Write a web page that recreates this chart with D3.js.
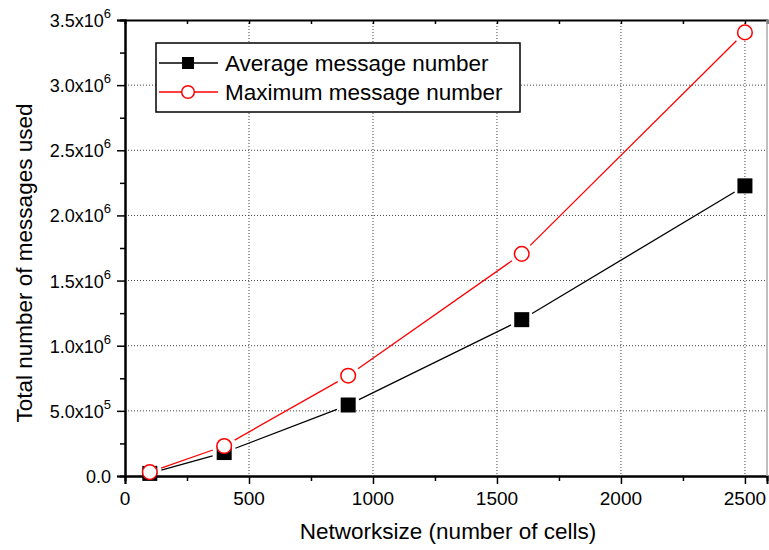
<!DOCTYPE html>
<html>
<head>
<meta charset="utf-8">
<script src="https://cdn.jsdelivr.net/npm/d3@7"></script>
<style>
  body { margin: 0; background: #fff; }
  text { font-family: "Liberation Sans", Arial, sans-serif; fill: #000; }
</style>
</head>
<body>
<script>
/* Data */
var sizes = [100, 400, 900, 1600, 2500];
var avgMessages = [20000, 180000, 545000, 1200000, 2227000];
var maxMessages = [30000, 230000, 770000, 1705000, 3405000];
var xTicks = [0, 500, 1000, 1500, 2000, 2500];
var yTicks = [0, 0.5e6, 1.0e6, 1.5e6, 2.0e6, 2.5e6, 3.0e6, 3.5e6];
var yTickLabels = ["0.0", "5.0x10|5", "1.0x10|6", "1.5x10|6", "2.0x10|6", "2.5x10|6", "3.0x10|6", "3.5x10|6"];

var W = 769, H = 550;
var pLeft = 125, pRight = 767, pTop = 20, pBottom = 476;

var x = d3.scaleLinear().domain([0, 2589]).range([pLeft, pRight]);
var y = d3.scaleLinear().domain([0, 3.5e6]).range([pBottom, pTop]);

var svg = d3.select("body").append("svg")
    .attr("width", W)
    .attr("height", H);

// dotted grid
svg.append("g").selectAll("line")
    .data(xTicks.filter(d => d > 0))
  .enter().append("line")
    .attr("x1", d => x(d)).attr("x2", d => x(d))
    .attr("y1", pTop).attr("y2", pBottom)
    .attr("stroke", "#444").attr("stroke-width", 1)
    .attr("stroke-dasharray", "1,2");
svg.append("g").selectAll("line")
    .data(yTicks.filter(d => d > 0 && d < 3.5e6))
  .enter().append("line")
    .attr("x1", pLeft).attr("x2", pRight)
    .attr("y1", d => y(d)).attr("y2", d => y(d))
    .attr("stroke", "#444").attr("stroke-width", 1)
    .attr("stroke-dasharray", "1,2");

// axes
var xAxis = svg.append("g").attr("transform", "translate(0," + pBottom + ")")
    .call(d3.axisBottom(x).tickValues(xTicks).tickSize(8).tickFormat(""));
var xMinor = svg.append("g").attr("transform", "translate(0," + pBottom + ")")
    .call(d3.axisBottom(x).tickValues(d3.range(250, 2589, 500)).tickSize(5).tickFormat(""));
var yAxis = svg.append("g").attr("transform", "translate(" + pLeft + ",0)")
    .call(d3.axisLeft(y).tickValues(yTicks).tickSize(8).tickFormat(""));
var yMinor = svg.append("g").attr("transform", "translate(" + pLeft + ",0)")
    .call(d3.axisLeft(y).tickValues(d3.range(0.25e6, 3.5e6, 0.5e6)).tickSize(5).tickFormat(""));
var xTop = svg.append("g").attr("transform", "translate(0," + pTop + ")")
    .call(d3.axisTop(x).tickValues(d3.range(0, 2589, 250)).tickSize(-4).tickFormat(""));

[xAxis, xMinor, yAxis, yMinor, xTop].forEach(g => {
  g.select(".domain").attr("stroke", "#000").attr("stroke-width", 2);
  g.selectAll(".tick line").attr("stroke", "#000").attr("stroke-width", 1.5);
});

// right frame
svg.append("line")
    .attr("x1", pRight).attr("x2", pRight).attr("y1", pTop).attr("y2", pBottom)
    .attr("stroke", "#aaa").attr("stroke-width", 1.5);

// x tick labels
svg.append("g").selectAll("text")
    .data(xTicks)
  .enter().append("text")
    .attr("x", d => x(d))
    .attr("y", 505)
    .attr("text-anchor", "middle")
    .attr("font-size", 19)
    .text(d => d);

// y tick labels with superscripts
var yl = svg.append("g").selectAll("text")
    .data(yTicks)
  .enter().append("text")
    .attr("x", pLeft - 14)
    .attr("y", d => y(d) + 7)
    .attr("text-anchor", "end")
    .attr("font-size", 18);
yl.each(function(d, i) {
  var parts = yTickLabels[i].split("|");
  var t = d3.select(this);
  t.append("tspan").text(parts[0]);
  if (parts[1]) t.append("tspan").attr("dy", -9).attr("font-size", 13).text(parts[1]);
});

// axis titles
svg.append("text")
    .attr("x", 448).attr("y", 539)
    .attr("text-anchor", "middle").attr("font-size", 22.5)
    .text("Networksize (number of cells)");
svg.append("text")
    .attr("transform", "translate(32,263) rotate(-90)")
    .attr("text-anchor", "middle").attr("font-size", 22.5)
    .text("Total number of messages used");

// series lines, trimmed at markers
function segments(vals, gap) {
  var out = [];
  for (var i = 0; i < vals.length - 1; i++) {
    var x0 = x(sizes[i]), y0 = y(vals[i]), x1 = x(sizes[i + 1]), y1 = y(vals[i + 1]);
    var len = Math.hypot(x1 - x0, y1 - y0);
    var ux = (x1 - x0) / len, uy = (y1 - y0) / len;
    out.push([x0 + ux * gap, y0 + uy * gap, x1 - ux * gap, y1 - uy * gap]);
  }
  return out;
}
function drawLine(vals, color) {
  svg.append("g").selectAll("line")
      .data(segments(vals, 12))
    .enter().append("line")
      .attr("x1", d => d[0]).attr("y1", d => d[1])
      .attr("x2", d => d[2]).attr("y2", d => d[3])
      .attr("stroke", color).attr("stroke-width", 1.3);
}
drawLine(avgMessages, "#000");
drawLine(maxMessages, "#f00");

svg.append("g").selectAll("rect")
    .data(sizes)
  .enter().append("rect")
    .attr("x", (d, i) => x(d) - 7.5).attr("y", (d, i) => y(avgMessages[i]) - 7.5)
    .attr("width", 15).attr("height", 15)
    .attr("fill", "#000");
svg.append("g").selectAll("circle")
    .data(sizes)
  .enter().append("circle")
    .attr("cx", d => x(d)).attr("cy", (d, i) => y(maxMessages[i]))
    .attr("r", 7.3)
    .attr("fill", "#fff").attr("stroke", "#f00").attr("stroke-width", 1.5);

// legend
var lg = svg.append("g");
lg.append("rect")
    .attr("x", 156).attr("y", 43).attr("width", 364).attr("height", 69)
    .attr("fill", "#fff").attr("stroke", "#000").attr("stroke-width", 1.5);
var legendItems = [
  {label: "Average message number", color: "#000", shape: "square", yy: 63},
  {label: "Maximum message number", color: "#f00", shape: "circle", yy: 92}
];
legendItems.forEach(it => {
  lg.append("line").attr("x1", 159).attr("x2", 218).attr("y1", it.yy).attr("y2", it.yy)
      .attr("stroke", it.color).attr("stroke-width", 1.3);
  if (it.shape === "square") {
    lg.append("rect").attr("x", 182).attr("y", it.yy - 6).attr("width", 12).attr("height", 12).attr("fill", "#000");
  } else {
    lg.append("circle").attr("cx", 188).attr("cy", it.yy).attr("r", 6.3)
        .attr("fill", "#fff").attr("stroke", "#f00").attr("stroke-width", 1.5);
  }
  lg.append("text").attr("x", 225).attr("y", it.yy + 8).attr("font-size", 22.5).text(it.label);
});
</script>
</body>
</html>
